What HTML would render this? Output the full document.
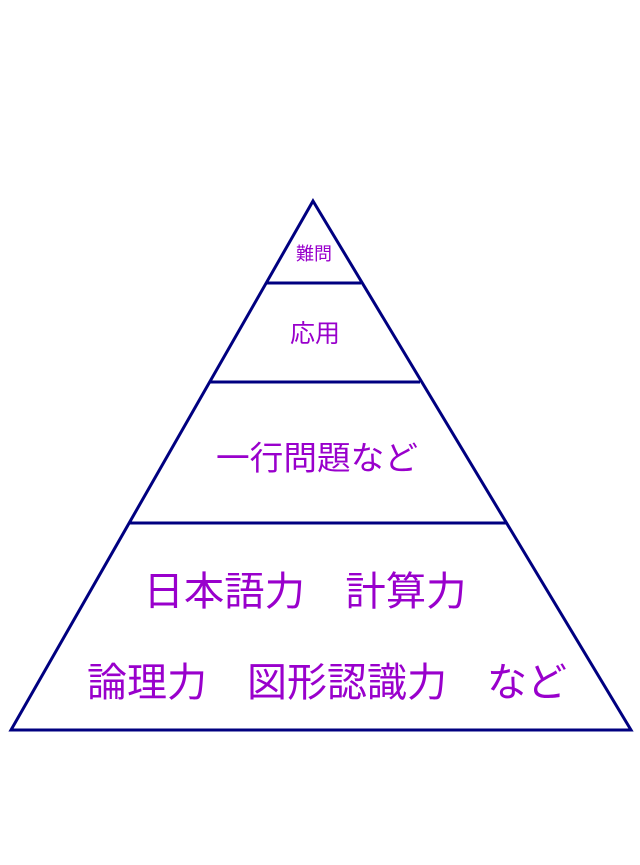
<!DOCTYPE html>
<html><head><meta charset="utf-8"><style>html,body{margin:0;padding:0;background:#fff}svg{display:block}</style></head>
<body>
<svg width="640" height="865" viewBox="0 0 640 865" xmlns="http://www.w3.org/2000/svg">
<g stroke="#000080" stroke-width="3" fill="none" stroke-linejoin="miter">
<polygon points="313,201 631,730 11,730"/>
<line x1="266" y1="283" x2="361" y2="283"/>
<line x1="209" y1="382" x2="420" y2="382"/>
<line x1="129" y1="523" x2="506" y2="523"/>
</g>
<g fill="#9900cc" font-family="'Liberation Sans','Noto Sans CJK JP',sans-serif" text-anchor="middle" dominant-baseline="central">
<text x="314" y="254" font-size="18">難問</text>
<text x="315" y="334" font-size="25">応用</text>
<text x="317" y="458" font-size="33" textLength="202" lengthAdjust="spacingAndGlyphs">一行問題など</text>
<text x="305" y="592" font-size="40" textLength="323" lengthAdjust="spacingAndGlyphs">日本語力　計算力</text>
<text x="327" y="683" font-size="40" textLength="480" lengthAdjust="spacingAndGlyphs">論理力　図形認識力　など</text>
</g>
</svg>
</body></html>
